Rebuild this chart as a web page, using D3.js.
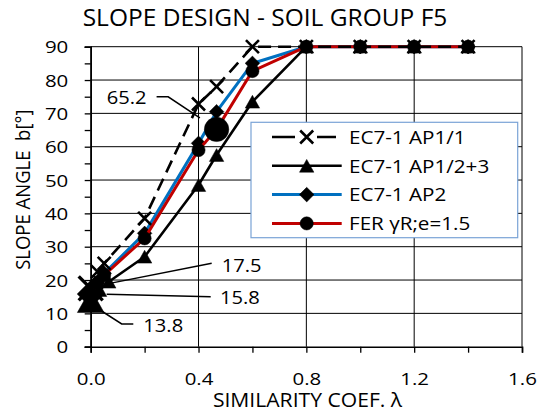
<!DOCTYPE html>
<html>
<head>
<meta charset="utf-8">
<script src="https://cdn.jsdelivr.net/npm/d3@7"></script>
<style>
  html, body { margin: 0; padding: 0; background: #fff; }
  svg { display: block; font-family: "Open Sans", sans-serif; }
</style>
</head>
<body>
<svg id="chart" width="548" height="412"></svg>
<script>
// Series data: similarity coefficient λ against slope angle b [°]
const seriesNames = ["EC7-1 AP1/1", "EC7-1 AP1/2+3", "EC7-1 AP2", "FER \u03b3R;e=1.5"];
const lambdaAP11  = [0, 0.025, 0.05, 0.2, 0.4, 0.467, 0.6, 0.8, 1.0, 1.2, 1.4];
const angleAP11   = [17.5, 22.5, 25, 38.5, 72.8, 78, 90, 90, 90, 90, 90];
const lambdaAP123 = [0, 0.033, 0.067, 0.2, 0.4, 0.467, 0.6, 0.8, 1.0, 1.2, 1.4];
const angleAP123  = [13.8, 17, 19.5, 27, 48.5, 57.5, 73.5, 90, 90, 90, 90];
const lambdaAP2   = [0, 0.025, 0.05, 0.2, 0.4, 0.467, 0.6, 0.8, 1.0, 1.2, 1.4];
const angleAP2    = [15.8, 19.5, 22, 34, 61, 70.5, 85, 90, 90, 90, 90];
const lambdaFER   = [0, 0.025, 0.05, 0.2, 0.4, 0.467, 0.6, 0.8, 1.0, 1.2, 1.4];
const angleFER    = [15.8, 19, 21.5, 32.5, 59, 65.2, 82.7, 90, 90, 90, 90];
// indices of the emphasised (enlarged) points in each series
const bigAP11  = [0];
const bigAP123 = [0];
const bigAP2   = [0];
const bigFER   = [5];

const xTicks = [0, 0.2, 0.4, 0.6, 0.8, 1.0, 1.2, 1.4, 1.6];
const xTickLabels = [0, 0.4, 0.8, 1.2, 1.6];
const yTicks = [0, 10, 20, 30, 40, 50, 60, 70, 80, 90];
const yMinorTicks = [5, 15, 25, 35, 45, 55, 65, 75, 85];
const xGrid = [0.4, 0.8, 1.2];

const svg = d3.select("#chart");
const x = d3.scaleLinear().domain([0, 1.6]).range([90.7, 522]);
const y = d3.scaleLinear().domain([0, 90]).range([346.7, 46.7]);

// widen glyphs horizontally about each text's anchor point
function stretch(sel, sx, sy = 1) {
  sel.each(function () {
    const t = d3.select(this);
    const tx = +t.attr("x") || 0, ty = +t.attr("y") || 0;
    t.attr("x", 0).attr("y", 0).attr("transform", `translate(${tx},${ty}) scale(${sx},${sy})`);
  });
}

// gridlines
const grid = svg.append("g").attr("stroke", "#000").attr("stroke-width", 1);
grid.selectAll(".hg").data(yTicks.filter(d => d > 0)).join("line")
  .attr("x1", x(0)).attr("x2", x(1.6)).attr("y1", d => y(d)).attr("y2", d => y(d));
grid.selectAll(".vg").data(xGrid).join("line")
  .attr("y1", y(0)).attr("y2", y(90)).attr("x1", d => x(d)).attr("x2", d => x(d));
grid.append("line").attr("x1", x(1.6)).attr("x2", x(1.6)).attr("y1", y(0)).attr("y2", y(90));

// axes
const axisG = svg.append("g");
const yAx = axisG.append("g").attr("transform", `translate(${x(0)},0)`)
  .call(d3.axisLeft(y).tickValues(yTicks).tickSize(6).tickPadding(16.4).tickFormat(d3.format("d")));
axisG.append("g").attr("transform", `translate(${x(0)},0)`)
  .call(d3.axisLeft(y).tickValues(yMinorTicks).tickSize(6).tickFormat(""));
const xAx = axisG.append("g").attr("transform", `translate(0,${y(0)})`)
  .call(d3.axisBottom(x).tickValues(xTicks).tickSize(6).tickPadding(19.8)
    .tickFormat(d => xTickLabels.some(v => Math.abs(v - d) < 1e-9) ? d3.format(".1f")(d) : ""));
axisG.selectAll(".domain").attr("stroke", "#000").attr("stroke-width", 1.6);
axisG.selectAll(".tick line").attr("stroke", "#000").attr("stroke-width", 1.3);
axisG.selectAll("text").attr("font-family", "'Open Sans', sans-serif").attr("font-size", 17.2).attr("fill", "#000");
yAx.selectAll(".tick text").attr("dy", "0.36em");
xAx.selectAll(".tick text").attr("dy", "0.72em");
stretch(axisG.selectAll(".tick text"), 1.19);

// marker shapes
function markerPath(type, big) {
  const s = big ? 1.85 : 1;
  if (type === "x") { const r = 6.5 * s; return `M${-r},${-r}L${r},${r}M${-r},${r}L${r},${-r}`; }
  if (type === "tri") { const w = 7.2 * s, h = 6.4 * s; return `M0,${-h}L${w},${h}L${-w},${h}Z`; }
  if (type === "dia") { const r = 7.3 * s; return `M0,${-r}L${r},0L0,${r}L${-r},0Z`; }
  const r = 6.6 * s; return `M${r},0A${r},${r} 0 1,1 ${-r},0A${r},${r} 0 1,1 ${r},0Z`;
}

const series = [
  { name: seriesNames[1], xs: lambdaAP123, ys: angleAP123, big: bigAP123, color: "#000", width: 2.6, dash: null, mark: "tri" },
  { name: seriesNames[2], xs: lambdaAP2, ys: angleAP2, big: bigAP2, color: "#0070C0", width: 3, dash: null, mark: "dia" },
  { name: seriesNames[3], xs: lambdaFER, ys: angleFER, big: bigFER, color: "#C00000", width: 3, dash: null, mark: "dot" },
  { name: seriesNames[0], xs: lambdaAP11, ys: angleAP11, big: bigAP11, color: "#000", width: 2.6, dash: "13,7", mark: "x" }
];

const line = d3.line().x(d => x(d[0])).y(d => y(d[1]));
const plot = svg.append("g");
series.forEach(s => {
  const pts = s.xs.map((v, i) => [v, s.ys[i], s.big.includes(i)]);
  plot.append("path").datum(pts).attr("d", line).attr("fill", "none")
    .attr("stroke", s.color).attr("stroke-width", s.width)
    .attr("stroke-dasharray", s.dash).attr("stroke-linejoin", "round");
  plot.append("g").selectAll("path").data(pts).join("path")
    .attr("transform", d => `translate(${x(d[0])},${y(d[1])})`)
    .attr("d", d => markerPath(s.mark, d[2]))
    .attr("fill", s.mark === "x" ? "none" : "#000")
    .attr("stroke", "#000")
    .attr("stroke-width", s.mark === "x" ? (d => d[2] ? 3.4 : 2.6) : 0.5);
});

// data labels with leader lines
const labels = [
  { px: lambdaFER[5], py: angleFER[5], text: d3.format(".1f")(angleFER[5]), tx: -70, ty: -31.6, anchor: "end",
    leader: [[-60, -32.6], [-48.4, -32.6], [-16.7, -11.6]] },
  { px: lambdaAP11[0], py: angleAP11[0], text: d3.format(".1f")(angleAP11[0]), tx: 131, ty: -23.4, anchor: "start",
    leader: [[121, -25.1], [14, -4]] },
  { px: lambdaAP2[0], py: angleAP2[0], text: d3.format(".1f")(angleAP2[0]), tx: 129.3, ty: 3.7, anchor: "start",
    leader: [[120, 2.7], [16, 0.3]] },
  { px: lambdaAP123[0], py: angleAP123[0], text: d3.format(".1f")(angleAP123[0]), tx: 52.6, ty: 25, anchor: "start",
    leader: [[42.6, 23.3], [31, 23.3], [9.3, 9.3]] }
];
const lab = svg.append("g");
labels.forEach(l => {
  const cx = x(l.px), cy = y(l.py);
  lab.append("path").attr("fill", "none").attr("stroke", "#000").attr("stroke-width", 1.5)
    .attr("d", d3.line()(l.leader.map(p => [cx + p[0], cy + p[1]])));
  lab.append("text").attr("x", cx + l.tx).attr("y", cy + l.ty).attr("dy", "0.36em")
    .attr("text-anchor", l.anchor).attr("font-size", 18.5).text(l.text);
});
stretch(lab.selectAll("text"), 1.09);

// legend
const leg = svg.append("g");
leg.append("rect").attr("x", 251).attr("y", 122.3).attr("width", 266.7).attr("height", 115.4)
  .attr("fill", "#fff").attr("stroke", "#7AA3D6").attr("stroke-width", 1.2);
const legOrder = [3, 0, 1, 2];
legOrder.forEach((si, i) => {
  const s = series[si];
  const ly = 137 + i * 28.8;
  const g = leg.append("g");
  if (s.dash) {
    g.append("line").attr("x1", 272).attr("x2", 336).attr("y1", ly).attr("y2", ly)
      .attr("stroke", s.color).attr("stroke-width", s.width).attr("stroke-dasharray", "23,22");
  } else {
    g.append("line").attr("x1", 272).attr("x2", 341.7).attr("y1", ly).attr("y2", ly)
      .attr("stroke", s.color).attr("stroke-width", s.width);
  }
  g.append("path").attr("transform", `translate(306.7,${ly})`).attr("d", markerPath(s.mark, false))
    .attr("fill", s.mark === "x" ? "none" : "#000").attr("stroke", "#000")
    .attr("stroke-width", s.mark === "x" ? 2.6 : 0.5);
  g.append("text").attr("x", 349).attr("y", ly).attr("dy", "0.36em").attr("font-size", 18.6).text(s.name);
});
stretch(leg.selectAll("text"), 1.11);

// titles
svg.append("text").attr("x", 265).attr("y", 26).attr("text-anchor", "middle")
  .attr("font-size", 24.5).text("SLOPE DESIGN - SOIL GROUP F5");
const xTitle = svg.append("text").attr("x", 307.5).attr("y", 406.5).attr("text-anchor", "middle")
  .attr("font-size", 19.2).text("SIMILARITY COEF. \u03bb");
stretch(xTitle, 1.1);
svg.append("text").attr("transform", "translate(30,189.7) rotate(-90) scale(1,1.1)").attr("text-anchor", "middle")
  .attr("font-size", 18.5).text("SLOPE ANGLE\u00a0\u00a0b[\u00b0]");
</script>
</body>
</html>
